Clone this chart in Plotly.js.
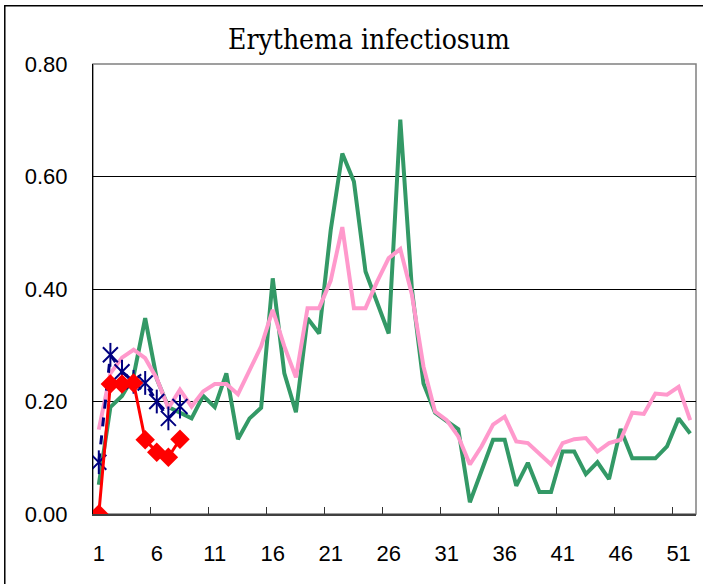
<!DOCTYPE html>
<html>
<head>
<meta charset="utf-8">
<script src="https://cdn.plot.ly/plotly-3.0.1.min.js"></script>
<style>
  html, body { margin: 0; padding: 0; background: #fff; }
  #chart { width: 703px; height: 584px; }
</style>
</head>
<body>
<div id="chart"></div>
<script>
// ---- data ----
const weeks = Array.from({length: 52}, (_, i) => String(i + 1));
const currentWeeks = weeks.slice(0, 8);

const previousYear = [
  0.052, 0.190, 0.210, 0.245, 0.348, 0.240, 0.190, 0.180, 0.170, 0.210,
  0.190, 0.250, 0.133, 0.170, 0.189, 0.419, 0.250, 0.181, 0.348, 0.321,
  0.505, 0.641, 0.591, 0.431, 0.376, 0.321, 0.701, 0.400, 0.232, 0.180,
  0.165, 0.151, 0.021, 0.076, 0.132, 0.132, 0.050, 0.091, 0.039, 0.039,
  0.111, 0.111, 0.071, 0.092, 0.062, 0.151, 0.099, 0.099, 0.099, 0.120,
  0.170, 0.143
];
const fiveYearAvg = [
  0.150, 0.250, 0.278, 0.292, 0.277, 0.241, 0.188, 0.221, 0.191, 0.218,
  0.231, 0.231, 0.213, 0.256, 0.298, 0.363, 0.298, 0.243, 0.366, 0.366,
  0.415, 0.510, 0.366, 0.366, 0.413, 0.455, 0.471, 0.390, 0.262, 0.182,
  0.167, 0.138, 0.088, 0.120, 0.159, 0.173, 0.129, 0.126, 0.108, 0.088,
  0.126, 0.133, 0.135, 0.111, 0.126, 0.132, 0.180, 0.178, 0.214, 0.212,
  0.226, 0.167
];
const lastYearEarly = [0.092, 0.283, 0.253, 0.235, 0.233, 0.200, 0.170, 0.191];
const currentYear   = [0.000, 0.231, 0.231, 0.233, 0.132, 0.110, 0.101, 0.133];

const yTicks = [0, 0.2, 0.4, 0.6, 0.8];
const titleText = 'Erythema infectiosum';

// ---- traces ----
const traces = [
  {
    x: weeks, y: previousYear, type: 'scatter', mode: 'lines',
    line: {color: '#339966', width: 4}, hoverinfo: 'skip'
  },
  {
    x: weeks, y: fiveYearAvg, type: 'scatter', mode: 'lines',
    line: {color: '#FF99CC', width: 4}, hoverinfo: 'skip'
  },
  {
    x: currentWeeks, y: lastYearEarly, type: 'scatter', mode: 'lines+markers',
    line: {color: '#000080', width: 3, dash: 'dash'},
    marker: {symbol: 'x-thin-open', size: 15, color: '#000080', line: {color: '#000080', width: 2}},
    hoverinfo: 'skip'
  },
  {
    x: currentWeeks, y: lastYearEarly, type: 'scatter', mode: 'markers',
    marker: {symbol: 'line-ns-open', size: 17, color: '#000080', line: {color: '#000080', width: 2}},
    hoverinfo: 'skip'
  },
  {
    x: currentWeeks, y: currentYear, type: 'scatter', mode: 'lines+markers',
    line: {color: '#FF0000', width: 3},
    marker: {symbol: 'diamond', size: 15, color: '#FF0000'},
    hoverinfo: 'skip'
  }
];

const layout = {
  width: 703, height: 584,
  margin: {l: 93, r: 7, t: 64, b: 70, pad: 0},
  paper_bgcolor: '#ffffff', plot_bgcolor: '#ffffff',
  showlegend: false,
  title: {
    text: titleText,
    font: {family: 'DejaVu Serif Condensed, DejaVu Serif, serif', size: 28, color: '#000'},
    x: 369 / 703, xref: 'container', xanchor: 'center',
    y: 1 - 39 / 584, yref: 'container', yanchor: 'middle'
  },
  xaxis: {
    type: 'category',
    range: [-0.5, 51.5],
    tickson: 'boundaries',
    tick0: 0, dtick: 5,
    tickangle: 0,
    ticks: 'inside', ticklen: 7, tickcolor: '#333', tickwidth: 1,
    showgrid: false, zeroline: false,
    showline: true, linecolor: '#404040', linewidth: 2,
    tickfont: {family: 'Liberation Sans, Arial, sans-serif', size: 22, color: '#000'},
    ticklabelstandoff: 19
  },
  yaxis: {
    range: [0, 0.8],
    tickvals: yTicks, tickformat: '.2f',
    ticks: 'inside', ticklen: 7, tickcolor: '#000', tickwidth: 1,
    showgrid: true, gridcolor: '#000', gridwidth: 1,
    zeroline: false,
    showline: true, linecolor: '#000', linewidth: 1,
    tickfont: {family: 'Liberation Sans, Arial, sans-serif', size: 22, color: '#000'},
    ticklabelstandoff: 20
  },
  shapes: [
    {type: 'rect', xref: 'paper', yref: 'paper', x0: 0, x1: 1, y0: 0, y1: 1,
     line: {color: '#808080', width: 1.5}, layer: 'below'},
    {type: 'rect', xref: 'paper', yref: 'paper', x0: -0.1463, x1: 1.05, y0: -0.2, y1: 1.1294,
     line: {color: '#000', width: 1.5}, fillcolor: 'rgba(0,0,0,0)', layer: 'above'}
  ]
};

Plotly.newPlot('chart', traces, layout, {staticPlot: true, displayModeBar: false});
</script>
</body>
</html>
